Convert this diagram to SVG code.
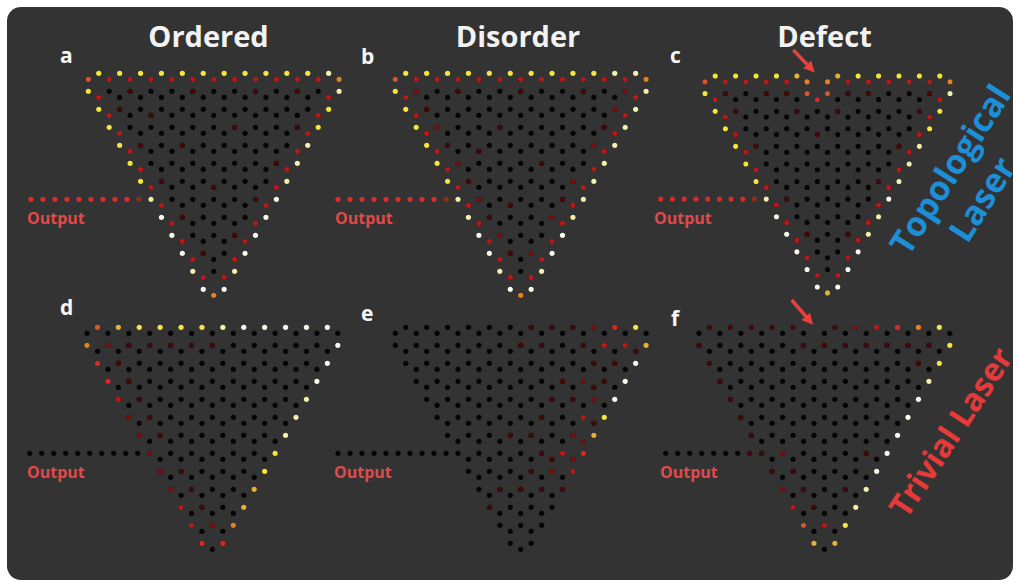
<svg xmlns="http://www.w3.org/2000/svg" width="1017" height="582" viewBox="0 0 1017 582">
<style>
circle{r:2.6px}
.k{fill:#050505}.d{fill:#400a0a}.m{fill:#741212}.r{fill:#b81a1a}.R{fill:#e22626}.q{fill:#da552c}.o{fill:#e4821f}.g{fill:#e2b23a}.y{fill:#f4e63a}.l{fill:#f5f0ac}.w{fill:#fcfcf0}.p{fill:#da2a2a}.pb{fill:#8e2e1c}
.t{font-family:"Open Sans","Liberation Sans",sans-serif;font-weight:700}
.ttl{font-size:29px;fill:#f2f2f2;text-anchor:middle}
.lt{font-size:21px;fill:#f7f7f7}
.out{font-size:16px;fill:#e04a4a}
</style>
<defs>
<g id="E1"><circle cx="125.4"/></g>
<g id="E3"><use href="#E1"/><circle cx="104.5"/><circle cx="146.3"/></g>
<g id="E5"><use href="#E3"/><circle cx="83.6"/><circle cx="167.2"/></g>
<g id="E7"><use href="#E5"/><circle cx="62.7"/><circle cx="188.1"/></g>
<g id="E9"><use href="#E7"/><circle cx="41.8"/><circle cx="209"/></g>
<g id="E11"><use href="#E9"/><circle cx="20.9"/><circle cx="229.9"/></g>
<g id="E13"><use href="#E11"/><circle cx="0"/><circle cx="250.8"/></g>
<g id="O2"><circle cx="114.95"/><circle cx="135.85"/></g>
<g id="O4"><use href="#O2"/><circle cx="94.05"/><circle cx="156.75"/></g>
<g id="O6"><use href="#O4"/><circle cx="73.15"/><circle cx="177.65"/></g>
<g id="O8"><use href="#O6"/><circle cx="52.25"/><circle cx="198.55"/></g>
<g id="O10"><use href="#O8"/><circle cx="31.35"/><circle cx="219.45"/></g>
<g id="O12"><use href="#O10"/><circle cx="10.45"/><circle cx="240.35"/></g>
<g id="lat">
<use href="#E13" y="6"/><use href="#E13" y="18"/>
<use href="#O12" y="24"/><use href="#O12" y="36"/>
<use href="#E11" y="42"/><use href="#E11" y="54"/>
<use href="#O10" y="60"/><use href="#O10" y="72"/>
<use href="#E9" y="78"/><use href="#E9" y="90"/>
<use href="#O8" y="96"/><use href="#O8" y="108"/>
<use href="#E7" y="114"/><use href="#E7" y="126"/>
<use href="#O6" y="132"/><use href="#O6" y="144"/>
<use href="#E5" y="150"/><use href="#E5" y="162"/>
<use href="#O4" y="168"/><use href="#O4" y="180"/>
<use href="#E3" y="186"/><use href="#E3" y="198"/>
<use href="#O2" y="204"/><use href="#O2" y="216"/>
<use href="#E1" y="222"/>
</g>
<g id="ring">
<circle cx="20.9" cy="6"/><circle cx="41.8" cy="6"/><circle cx="62.7" cy="6"/><circle cx="83.6" cy="6"/><circle cx="104.5" cy="6"/><circle cx="125.4" cy="6"/><circle cx="146.3" cy="6"/><circle cx="167.2" cy="6"/><circle cx="188.1" cy="6"/><circle cx="209" cy="6"/><circle cx="229.9" cy="6"/>
<circle cx="10.45" cy="24"/><circle cx="20.9" cy="42"/><circle cx="31.35" cy="60"/><circle cx="41.8" cy="78"/><circle cx="52.25" cy="96"/><circle cx="62.7" cy="114"/><circle cx="73.15" cy="132"/><circle cx="83.6" cy="150"/><circle cx="94.05" cy="168"/><circle cx="104.5" cy="186"/><circle cx="114.95" cy="204"/>
<circle cx="240.35" cy="24"/><circle cx="229.9" cy="42"/><circle cx="219.45" cy="60"/><circle cx="209" cy="78"/><circle cx="198.55" cy="96"/><circle cx="188.1" cy="114"/><circle cx="177.65" cy="132"/><circle cx="167.2" cy="150"/><circle cx="156.75" cy="168"/><circle cx="146.3" cy="186"/><circle cx="135.85" cy="204"/>
</g>
<marker id="ah" viewBox="0 0 10 10" refX="0.5" refY="5" markerWidth="3.2" markerHeight="3.2" orient="auto" markerUnits="strokeWidth"><path d="M0,0 L10,5 L0,10 z" fill="#e8403c"/></marker>
</defs>
<rect width="1017" height="582" fill="#ffffff"/>
<rect x="7" y="7" width="1006" height="573" rx="14" fill="#333333"/>

<g id="titles" class="t">
<text class="t ttl" x="208.5" y="47">Ordered</text>
<text class="t ttl" x="518" y="47">Disorder</text>
<text class="t ttl" x="824.5" y="47">Defect</text>
<text class="t lt" x="60" y="63">a</text>
<text class="t lt" x="361" y="64">b</text>
<text class="t lt" x="670" y="63">c</text>
<text class="t lt" x="60" y="315">d</text>
<text class="t lt" x="361" y="321">e</text>
<text class="t lt" x="671" y="326">f</text>
<text class="t out" x="27" y="224">Output</text>
<text class="t out" x="335" y="224">Output</text>
<text class="t out" x="654" y="224">Output</text>
<text class="t out" x="27" y="478">Output</text>
<text class="t out" x="334" y="478">Output</text>
<text class="t out" x="660" y="478">Output</text>
</g>

<g id="panel-a" transform="translate(88.3,73.3)">
<use href="#lat" class="k"/>
<use href="#ring" class="r"/>
<g class="d"><circle cx="41.8" cy="18"/><circle cx="104.5" cy="18"/><circle cx="167.2" cy="18"/><circle cx="209" cy="18"/><circle cx="31.35" cy="36"/><circle cx="52.25" cy="72"/><circle cx="73.15" cy="108"/><circle cx="94.05" cy="144"/><circle cx="114.95" cy="180"/><circle cx="209" cy="54"/><circle cx="188.1" cy="90"/><circle cx="167.2" cy="126"/><circle cx="146.3" cy="162"/><circle cx="94.05" cy="72"/><circle cx="125.4" cy="114"/><circle cx="146.3" cy="54"/><circle cx="62.7" cy="42"/></g>
<g class="y"><circle cx="10.45"/><circle cx="31.35"/><circle cx="52.25"/><circle cx="73.15"/><circle cx="94.05"/><circle cx="114.95"/><circle cx="135.85"/><circle cx="156.75"/><circle cx="177.65"/><circle cx="198.55"/><circle cx="219.45"/>
<circle cx="0" cy="18"/><circle cx="10.45" cy="36"/><circle cx="20.9" cy="54"/><circle cx="31.35" cy="72"/><circle cx="41.8" cy="90"/><circle cx="52.25" cy="108"/><circle cx="240.35" cy="36"/><circle cx="229.9" cy="54"/></g>
<g class="l"><circle cx="240.35"/><circle cx="62.7" cy="126"/><circle cx="104.5" cy="198"/><circle cx="250.8" cy="18"/><circle cx="219.45" cy="72"/><circle cx="209" cy="90"/><circle cx="198.55" cy="108"/><circle cx="146.3" cy="198"/></g>
<g class="w"><circle cx="73.15" cy="144"/><circle cx="83.6" cy="162"/><circle cx="94.05" cy="180"/><circle cx="114.95" cy="216"/><circle cx="188.1" cy="126"/><circle cx="177.65" cy="144"/><circle cx="167.2" cy="162"/><circle cx="156.75" cy="180"/><circle cx="135.85" cy="216"/></g>
<circle class="q" cx="0" cy="6"/><circle class="o" cx="250.8" cy="6"/><circle class="o" cx="125.4" cy="222"/>
<circle class="pb" cx="50.7" cy="126"/>
<g class="p"><circle cx="38.7" cy="126"/><circle cx="26.7" cy="126"/><circle cx="14.7" cy="126"/><circle cx="2.7" cy="126"/><circle cx="-9.3" cy="126"/><circle cx="-21.3" cy="126"/><circle cx="-33.3" cy="126"/><circle cx="-45.3" cy="126"/><circle cx="-57.3" cy="126"/></g>
</g>

<g id="panel-b" transform="translate(395.3,73.3)">
<use href="#lat" class="k"/>
<use href="#ring" class="r"/>
<g class="d"><circle cx="31.35" cy="36"/><circle cx="52.25" cy="72"/><circle cx="73.15" cy="108"/><circle cx="94.05" cy="144"/><circle cx="114.95" cy="180"/><circle cx="62.7" cy="18"/><circle cx="125.4" cy="18"/><circle cx="188.1" cy="18"/><circle cx="146.3" cy="90"/><circle cx="104.5" cy="54"/><circle cx="167.2" cy="126"/><circle cx="114.95" cy="132"/><circle cx="83.6" cy="78"/><circle cx="209" cy="54"/></g>
<g class="m"><circle cx="20.9" cy="18"/><circle cx="41.8" cy="54"/><circle cx="62.7" cy="90"/><circle cx="83.6" cy="126"/><circle cx="104.5" cy="162"/><circle cx="219.45" cy="36"/><circle cx="198.55" cy="72"/><circle cx="177.65" cy="108"/><circle cx="156.75" cy="144"/><circle cx="135.85" cy="180"/><circle cx="229.9" cy="18"/></g>
<g class="y"><circle cx="10.45"/><circle cx="31.35"/><circle cx="52.25"/><circle cx="73.15"/><circle cx="94.05"/><circle cx="114.95"/><circle cx="135.85"/><circle cx="156.75"/><circle cx="177.65"/><circle cx="198.55"/>
<circle cx="0" cy="18"/><circle cx="10.45" cy="36"/><circle cx="20.9" cy="54"/><circle cx="31.35" cy="72"/><circle cx="41.8" cy="90"/><circle cx="52.25" cy="108"/></g>
<g class="l"><circle cx="219.45"/><circle cx="240.35"/><circle cx="62.7" cy="126"/><circle cx="73.15" cy="144"/><circle cx="104.5" cy="198"/><circle cx="250.8" cy="18"/><circle cx="240.35" cy="36"/><circle cx="229.9" cy="54"/><circle cx="219.45" cy="72"/><circle cx="209" cy="90"/><circle cx="198.55" cy="108"/><circle cx="188.1" cy="126"/><circle cx="177.65" cy="144"/><circle cx="146.3" cy="198"/></g>
<g class="w"><circle cx="83.6" cy="162"/><circle cx="94.05" cy="180"/><circle cx="114.95" cy="216"/><circle cx="167.2" cy="162"/><circle cx="156.75" cy="180"/><circle cx="135.85" cy="216"/></g>
<circle class="q" cx="0" cy="6"/><circle class="o" cx="250.8" cy="6"/><circle class="o" cx="125.4" cy="222"/>
<circle class="pb" cx="50.7" cy="126"/>
<g class="p"><circle cx="38.7" cy="126"/><circle cx="26.7" cy="126"/><circle cx="14.7" cy="126"/><circle cx="2.7" cy="126"/><circle cx="-9.3" cy="126"/><circle cx="-21.3" cy="126"/><circle cx="-33.3" cy="126"/><circle cx="-45.3" cy="126"/><circle cx="-57.3" cy="126"/></g>
</g>

<g id="panel-c" transform="translate(705,76) scale(0.977)">
<use href="#lat" class="k"/>
<use href="#ring" class="r"/>
<g class="d"><circle cx="20.9" cy="18"/><circle cx="62.7" cy="18"/><circle cx="83.6" cy="18"/><circle cx="146.3" cy="18"/><circle cx="167.2" cy="18"/><circle cx="229.9" cy="18"/><circle cx="31.35" cy="36"/><circle cx="52.25" cy="72"/><circle cx="83.6" cy="126"/><circle cx="104.5" cy="162"/><circle cx="219.45" cy="36"/><circle cx="198.55" cy="72"/><circle cx="177.65" cy="108"/><circle cx="146.3" cy="162"/><circle cx="94.05" cy="36"/><circle cx="135.85" cy="36"/><circle cx="114.95" cy="60"/></g>
<circle class="o" cx="104.5" cy="6"/><circle class="o" cx="125.4" cy="6"/><circle class="q" cx="104.5" cy="18"/><circle class="q" cx="125.4" cy="18"/><circle class="R" cx="114.95" cy="24"/>
<g class="y"><circle cx="10.45"/><circle cx="31.35"/><circle cx="52.25"/><circle cx="73.15"/><circle cx="156.75"/><circle cx="177.65"/><circle cx="198.55"/><circle cx="219.45"/><circle cx="240.35"/>
<circle cx="0" cy="18"/><circle cx="10.45" cy="36"/><circle cx="20.9" cy="54"/><circle cx="31.35" cy="72"/><circle cx="41.8" cy="90"/><circle cx="52.25" cy="108"/><circle cx="240.35" cy="36"/><circle cx="229.9" cy="54"/></g>
<g class="g"><circle cx="94.05"/><circle cx="135.85"/><circle cx="125.4" cy="222"/></g>
<g class="l"><circle cx="62.7" cy="126"/><circle cx="250.8" cy="18"/><circle cx="219.45" cy="72"/><circle cx="209" cy="90"/><circle cx="198.55" cy="108"/><circle cx="177.65" cy="144"/><circle cx="167.2" cy="162"/></g>
<g class="w"><circle cx="73.15" cy="144"/><circle cx="83.6" cy="162"/><circle cx="94.05" cy="180"/><circle cx="104.5" cy="198"/><circle cx="114.95" cy="216"/><circle cx="188.1" cy="126"/><circle cx="156.75" cy="180"/><circle cx="146.3" cy="198"/><circle cx="135.85" cy="216"/></g>
<circle class="q" cx="0" cy="6"/><circle class="o" cx="250.8" cy="6"/>
<circle class="pb" cx="50.7" cy="126"/>
<g class="p"><circle cx="38.7" cy="126"/><circle cx="26.7" cy="126"/><circle cx="14.7" cy="126"/><circle cx="2.7" cy="126"/><circle cx="-9.3" cy="126"/><circle cx="-21.3" cy="126"/><circle cx="-33.3" cy="126"/><circle cx="-45.3" cy="126"/></g>
</g>

<g id="panel-d" transform="translate(87,327.3)">
<use href="#lat" class="k"/>
<g class="d"><circle cx="41.8" cy="18"/><circle cx="62.7" cy="18"/><circle cx="83.6" cy="18"/><circle cx="104.5" cy="18"/><circle cx="125.4" cy="18"/><circle cx="31.35" cy="36"/><circle cx="41.8" cy="54"/><circle cx="52.25" cy="72"/><circle cx="62.7" cy="90"/><circle cx="73.15" cy="108"/><circle cx="94.05" cy="144"/><circle cx="104.5" cy="162"/><circle cx="114.95" cy="180"/></g>
<g class="m"><circle cx="20.9" cy="18"/><circle cx="125.4" cy="198"/><circle cx="41.8" cy="90"/><circle cx="52.25" cy="108"/><circle cx="62.7" cy="126"/><circle cx="73.15" cy="144"/><circle cx="83.6" cy="162"/></g>
<circle class="q" cx="10.45"/><circle class="g" cx="31.35"/>
<g class="y"><circle cx="52.25"/><circle cx="73.15"/><circle cx="94.05"/><circle cx="114.95"/><circle cx="188.1" cy="126"/><circle cx="177.65" cy="144"/></g>
<g class="l"><circle cx="135.85"/><circle cx="219.45" cy="72"/><circle cx="209" cy="90"/><circle cx="198.55" cy="108"/></g>
<g class="w"><circle cx="156.75"/><circle cx="177.65"/><circle cx="198.55"/><circle cx="219.45"/><circle cx="240.35"/><circle cx="250.8" cy="18"/><circle cx="240.35" cy="36"/><circle cx="229.9" cy="54"/></g>
<circle class="o" cx="0" cy="18"/>
<g class="R"><circle cx="10.45" cy="36"/><circle cx="20.9" cy="54"/><circle cx="114.95" cy="216"/><circle cx="135.85" cy="216"/></g>
<g class="r"><circle cx="31.35" cy="72"/><circle cx="94.05" cy="180"/><circle cx="104.5" cy="198"/></g>
<g class="g"><circle cx="167.2" cy="162"/><circle cx="156.75" cy="180"/></g>
<circle class="o" cx="146.3" cy="198"/>
<g class="k"><circle cx="50.7" cy="126"/><circle cx="38.7" cy="126"/><circle cx="26.7" cy="126"/><circle cx="14.7" cy="126"/><circle cx="2.7" cy="126"/><circle cx="-9.3" cy="126"/><circle cx="-21.3" cy="126"/><circle cx="-33.3" cy="126"/><circle cx="-45.3" cy="126"/><circle cx="-57.3" cy="126"/></g>
</g>

<g id="panel-e" transform="translate(395.3,327.3)">
<use href="#lat" class="k"/>
<use href="#O12" class="k"/>
<g class="d"><circle cx="135.85"/><circle cx="156.75"/><circle cx="177.65"/><circle cx="125.4" cy="18"/><circle cx="146.3" cy="18"/><circle cx="188.1" cy="18"/><circle cx="240.35" cy="24"/><circle cx="198.55" cy="36"/><circle cx="219.45" cy="36"/><circle cx="167.2" cy="54"/><circle cx="209" cy="54"/><circle cx="198.55" cy="60"/><circle cx="156.75" cy="72"/><circle cx="177.65" cy="72"/><circle cx="146.3" cy="90"/><circle cx="198.55" cy="96"/><circle cx="114.95" cy="108"/><circle cx="135.85" cy="108"/><circle cx="146.3" cy="126"/><circle cx="156.75" cy="132"/><circle cx="135.85" cy="144"/><circle cx="104.5" cy="162"/><circle cx="125.4" cy="162"/><circle cx="146.3" cy="162"/><circle cx="167.2" cy="162"/><circle cx="94.05" cy="180"/></g>
<g class="m"><circle cx="198.55"/><circle cx="188.1" cy="54"/><circle cx="198.55" cy="72"/><circle cx="177.65" cy="108"/><circle cx="188.1" cy="114"/><circle cx="177.65" cy="132"/><circle cx="156.75" cy="144"/></g>
<g class="r"><circle cx="209" cy="18"/><circle cx="229.9" cy="18"/><circle cx="188.1" cy="90"/><circle cx="167.2" cy="126"/><circle cx="177.65" cy="144"/></g>
<g class="R"><circle cx="219.45"/><circle cx="188.1" cy="126"/></g>
<g class="y"><circle cx="240.35"/><circle cx="209" cy="90"/></g>
<g class="g"><circle cx="250.8" cy="18"/><circle cx="198.55" cy="108"/></g>
<g class="w"><circle cx="240.35" cy="36"/><circle cx="229.9" cy="54"/><circle cx="219.45" cy="72"/></g>
<g class="k"><circle cx="50.7" cy="126"/><circle cx="38.7" cy="126"/><circle cx="26.7" cy="126"/><circle cx="14.7" cy="126"/><circle cx="2.7" cy="126"/><circle cx="-9.3" cy="126"/><circle cx="-21.3" cy="126"/><circle cx="-33.3" cy="126"/><circle cx="-45.3" cy="126"/><circle cx="-57.3" cy="126"/></g>
</g>

<g id="panel-f" transform="translate(699,327.3)">
<use href="#lat" class="k"/>
<g class="d"><circle cx="10.45"/><circle cx="31.35"/><circle cx="52.25"/><circle cx="73.15"/><circle cx="94.05"/><circle cx="135.85"/>
<circle cx="0" cy="18"/><circle cx="104.5" cy="18"/><circle cx="125.4" cy="18"/><circle cx="146.3" cy="18"/><circle cx="167.2" cy="18"/><circle cx="188.1" cy="18"/><circle cx="209" cy="18"/><circle cx="229.9" cy="18"/>
<circle cx="10.45" cy="36"/><circle cx="20.9" cy="54"/><circle cx="31.35" cy="72"/><circle cx="41.8" cy="90"/><circle cx="52.25" cy="108"/><circle cx="62.7" cy="126"/><circle cx="73.15" cy="144"/>
<circle cx="219.45" cy="36"/><circle cx="94.05" cy="144"/><circle cx="104.5" cy="162"/><circle cx="146.3" cy="162"/><circle cx="114.95" cy="180"/><circle cx="167.2" cy="126"/><circle cx="50.7" cy="126"/></g>
<g class="m"><circle cx="156.75"/><circle cx="83.6" cy="162"/><circle cx="83.6" cy="126"/></g>
<g class="r"><circle cx="177.65"/><circle cx="94.05" cy="180"/><circle cx="125.4" cy="198"/></g>
<circle class="R" cx="198.55"/><circle class="o" cx="219.45"/><circle class="q" cx="104.5" cy="198"/>
<g class="y"><circle cx="240.35"/><circle cx="250.8" cy="18"/><circle cx="240.35" cy="36"/><circle cx="146.3" cy="198"/></g>
<g class="l"><circle cx="229.9" cy="54"/><circle cx="167.2" cy="162"/><circle cx="156.75" cy="180"/></g>
<g class="w"><circle cx="219.45" cy="72"/><circle cx="209" cy="90"/><circle cx="198.55" cy="108"/><circle cx="188.1" cy="126"/><circle cx="177.65" cy="144"/></g>
<g class="g"><circle cx="114.95" cy="216"/><circle cx="135.85" cy="216"/></g>
<g class="k"><circle cx="38.7" cy="126"/><circle cx="26.7" cy="126"/><circle cx="14.7" cy="126"/><circle cx="2.7" cy="126"/><circle cx="-9.3" cy="126"/><circle cx="-21.3" cy="126"/><circle cx="-33.3" cy="126"/></g>
</g>

<g id="arrows" stroke="#e8403c" stroke-width="3.5" fill="none">
<line x1="793.3" y1="50" x2="807.4" y2="64.7" marker-end="url(#ah)"/>
<line x1="791.7" y1="300" x2="806.1" y2="316.7" marker-end="url(#ah)"/>
</g>

<g id="side-labels">
<g transform="translate(951,170) rotate(-57.5)">
<text class="t" font-size="34" fill="#1c8fd6" text-anchor="middle" y="11">Topological</text>
<text class="t" font-size="34" fill="#1c8fd6" text-anchor="middle" x="-8" y="54">Laser</text>
</g>
<g transform="translate(952,433) rotate(-56.5)">
<text class="t" font-size="32" fill="#e63a3a" text-anchor="middle" y="10">Trivial Laser</text>
</g>
</g>
</svg>
